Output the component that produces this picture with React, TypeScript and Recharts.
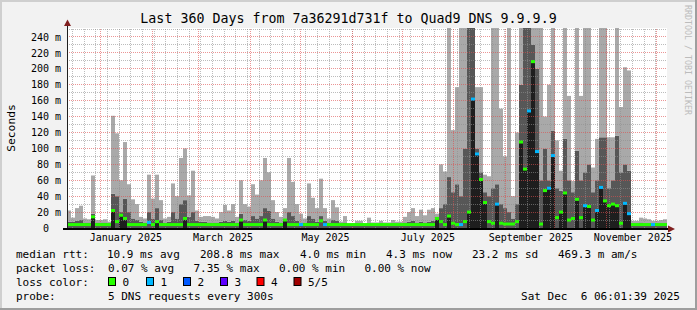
import React from 'react';
import { ComposedChart, Bar, Scatter, XAxis, YAxis, ReferenceLine } from 'recharts';

// ---- data (ms), one column per ~2.4 days ----
const lightTop = [
  22, 13, 25, 28, 12, 11, 66, 10, 10, 11,
  8, 141, 119, 60, 108, 55, 36, 30, 14, 12,
  67, 37, 67, 35, 12, 14, 56, 40, 88, 100,
  41, 72, 22, 14, 15, 15, 14, 12, 20, 29,
  22, 30, 14, 60, 30, 27, 55, 42, 60, 88,
  70, 35, 20, 14, 25, 88, 58, 30, 18, 12,
  56, 38, 25, 62, 25, 12, 35, 26, 8, 15,
  6, 6, 9, 9, 6, 13, 7, 7, 9, 7,
  7, 10, 8, 8, 14, 20, 25, 15, 23, 16,
  23, 25, 18, 80, 71, 252, 123, 177, 252, 252,
  252, 252, 177, 177, 67, 65, 252, 252, 150, 90,
  252, 40, 120, 252, 252, 252, 252, 252, 252, 140,
  180, 252, 110, 72, 252, 166, 59, 252, 166, 252,
  252, 76, 112, 252, 252, 114, 114, 252, 152, 202,
  198, 9, 9, 13, 12, 11, 9, 9, 10, 11,
];
const darkTop = [
  8, 8, 9, 10, 7, 7, 18, 7, 7, 7,
  6, 43, 40, 20, 37, 20, 12, 10, 8, 7,
  20, 12, 25, 10, 7, 8, 20, 12, 30, 35,
  14, 20, 9, 8, 8, 7, 7, 7, 8, 9,
  8, 9, 7, 18, 10, 9, 15, 12, 15, 25,
  22, 12, 8, 7, 8, 20, 15, 9, 7, 7,
  15, 12, 8, 15, 9, 7, 10, 9, 6, 7,
  5, 5, 6, 6, 5, 6, 5, 5, 6, 5,
  5, 6, 5, 6, 7, 8, 9, 7, 8, 7,
  8, 9, 8, 25, 30, 64, 45, 55, 40, 100,
  252, 252, 100, 70, 45, 40, 50, 55, 30, 25,
  20, 12, 30, 180, 252, 252, 230, 200, 60, 100,
  60, 122, 50, 47, 112, 60, 45, 97, 60, 70,
  80, 45, 60, 114, 114, 50, 60, 116, 70, 80,
  72, 6, 6, 7, 6, 6, 6, 6, 6, 6,
];
const blackTop = [
  0, 0, 0, 0, 0, 0, 14, 0, 0, 0,
  0, 22, 0, 16, 12, 0, 0, 0, 0, 0,
  0, 0, 8, 0, 0, 0, 0, 0, 0, 12,
  0, 0, 0, 0, 0, 0, 0, 0, 0, 0,
  0, 0, 0, 10, 0, 0, 0, 0, 0, 10,
  0, 0, 0, 0, 10, 0, 0, 0, 0, 0,
  0, 0, 0, 0, 0, 0, 0, 0, 0, 0,
  0, 0, 0, 0, 0, 0, 0, 0, 0, 0,
  0, 0, 0, 0, 0, 0, 0, 0, 0, 0,
  0, 0, 12, 0, 0, 15, 0, 0, 0, 0,
  20, 162, 93, 61, 32, 0, 0, 30, 0, 0,
  0, 0, 0, 108, 74, 147, 209, 96, 0, 47,
  50, 91, 0, 20, 44, 0, 0, 36, 0, 28,
  27, 0, 22, 51, 34, 28, 30, 28, 0, 31,
  18, 0, 0, 0, 0, 0, 0, 0, 0, 0,
];
const medianRtt = [
  4.3, 4.3, 4.3, 4.3, 4.3, 4.3, 14, 4.3, 4.3, 4.3,
  4.3, 22, 8, 16, 12, 4.3, 4.3, 4.3, 4.3, 4.3,
  7, 4.3, 8, 4.3, 4.3, 4.3, 4.3, 4.3, 4.3, 12,
  4.3, 4.3, 4.3, 4.3, 4.3, 4.3, 4.3, 4.3, 4.3, 4.3,
  4.3, 4.3, 4.3, 10, 4.3, 4.3, 4.3, 4.3, 4.3, 10,
  4.3, 4.3, 4.3, 4.3, 10, 4.3, 4.3, 4.3, 4.3, 4.3,
  4.3, 4.3, 4.3, 9, 4.3, 4.3, 4.3, 4.3, 4.3, 4.3,
  4.3, 4.3, 4.3, 4.3, 4.3, 4.3, 4.3, 4.3, 4.3, 4.3,
  4.3, 4.3, 4.3, 4.3, 4.3, 4.3, 4.3, 4.3, 4.3, 4.3,
  4.3, 4.3, 12, 8, 4.3, 15, 6, 4.3, 4.3, 8,
  20, 162, 93, 61, 32, 8, 6, 30, 6, 5,
  5, 5, 8, 108, 74, 147, 209, 96, 5, 47,
  50, 91, 13, 20, 44, 10, 12, 36, 13, 28,
  27, 10, 22, 51, 34, 28, 30, 28, 6, 31,
  18, 4.3, 4.3, 4.3, 4.3, 4.3, 4.3, 4.3, 4.3, 4.3,
];
const lossCount = [
  0, 0, 0, 0, 0, 0, 0, 0, 0, 0,
  0, 0, 0, 0, 0, 0, 0, 0, 0, 0,
  1, 0, 0, 0, 0, 0, 0, 0, 0, 0,
  0, 0, 0, 0, 0, 0, 0, 0, 0, 0,
  0, 0, 0, 0, 0, 0, 0, 0, 0, 0,
  0, 0, 0, 0, 0, 0, 0, 0, 1, 0,
  0, 0, 0, 0, 1, 0, 0, 0, 0, 0,
  0, 0, 0, 0, 0, 0, 0, 0, 0, 0,
  0, 0, 0, 0, 0, 0, 0, 0, 0, 0,
  0, 0, 0, 0, 0, 0, 0, 0, 1, 0,
  0, 1, 1, 0, 0, 0, 0, 1, 0, 0,
  0, 0, 0, 0, 0, 1, 0, 1, 0, 0,
  1, 1, 0, 0, 0, 0, 0, 0, 0, 1,
  0, 0, 1, 1, 0, 0, 0, 0, 0, 1,
  1, 0, 0, 0, 0, 0, 1, 0, 0, 0,
];

const DAYS_SPAN = 360;
const yTicks = [0, 20, 40, 60, 80, 100, 120, 140, 160, 180, 200, 220, 240];
const yMinorGrid = [10, 30, 50, 70, 90, 110, 130, 150, 170, 190, 210, 230, 250];
const monthLabels = ['January 2025', 'March 2025', 'May 2025', 'July 2025', 'September 2025', 'November 2025'];
const monthLabelDays = [35.3, 93.6, 155.1, 216.5, 278.3, 339.5];
const monthStartDays = [20, 51, 79, 110, 140, 171, 201, 232, 263, 292.5, 323.5, 353.5];
const weekGridDays = Array.from({ length: 52 }, (_, k) => 3.2 + 7 * k).filter((d) => d < 360);

const lossColors = ['#26ff00', '#00b8ff', '#0059ff', '#5e00ff', '#ff0000', '#a00000'];
const lossLegend = ['0', '1', '2', '3', '4', '5/5'];

const colDays = DAYS_SPAN / lightTop.length;
const data = lightTop.map((l, i) => {
  const k = blackTop[i];
  const d = Math.max(darkTop[i], k);
  return {
    idx: i,
    t: (i + 0.5) * colDays,
    sBlack: k,
    sDark: d - k,
    sLight: Math.max(l - d, 0),
    med: medianRtt[i],
    loss: lossCount[i],
  };
});

const FONT = '"DejaVu Sans Mono", monospace';
const MAJOR = 'rgba(222,79,79,0.6)';
const MINOR = 'rgba(143,143,143,0.6)';

const YTick = (props: any) => {
  const { y, payload } = props;
  const v = payload.value;
  return (
    <text x={v === 0 ? 49 : 61} y={y + 3.6} textAnchor="end" fontFamily={FONT} fontSize={10} fill="#000">
      {v === 0 ? '0' : `${v} m`}
    </text>
  );
};

const XTick = (props: any) => {
  const { x, payload } = props;
  const i = monthLabelDays.indexOf(payload.value);
  return (
    <text x={x} y={241} textAnchor="middle" fontFamily={FONT} fontSize={10} fill="#000">
      {monthLabels[i]}
    </text>
  );
};

const MedShape = (props: any) => {
  const { cx, cy, payload } = props;
  if (cx == null || cy == null) return <g />;
  return <rect x={cx - 2} y={cy - 1.5} width={4} height={3} fill={lossColors[payload.loss]} />;
};

const legendLine1: [string, number][] = [
  ['median rtt:', 16], ['10.9 ms avg', 107], ['208.8 ms max', 200], ['4.0 ms min', 300],
  ['4.3 ms now', 386], ['23.2 ms sd', 472], ['469.3 m am/s', 558],
];
const legendLine2: [string, number][] = [
  ['packet loss:', 16], ['0.07 % avg', 108], ['7.35 % max', 193.5], ['0.00 % min', 279], ['0.00 % now', 364.5],
];
const swatchX = [108, 146, 183, 220, 256.5, 293.5];

export default function App() {
  return (
    <div style={{ position: 'absolute', left: 0, top: 0, width: 697, height: 310, overflow: 'hidden' }}>
      <svg width={697} height={310} style={{ position: 'absolute', left: 0, top: 0 }}>
        <rect x={0} y={0} width={697} height={310} fill="#f2f2f2" />
        <rect x={67} y={28} width={600} height={200} fill="#ffffff" />
      </svg>
      <div style={{ position: 'absolute', left: 0, top: 0 }}>
        <ComposedChart
          width={697}
          height={310}
          data={data}
          margin={{ top: 28, right: 30, bottom: 62, left: 7 }}
          barCategoryGap={0}
          barGap={0}
        >
          <XAxis xAxisId="cat" dataKey="idx" type="category" hide />
          <XAxis
            xAxisId="days"
            dataKey="t"
            type="number"
            scale="linear"
            domain={[0, DAYS_SPAN]}
            allowDataOverflow
            ticks={monthLabelDays}
            interval={0}
            tick={<XTick />}
            axisLine={false}
            tickLine={false}
            height={20}
          />
          <YAxis
            domain={[0, 251.3]}
            allowDataOverflow
            ticks={yTicks}
            tick={<YTick />}
            axisLine={false}
            tickLine={false}
            width={60}
            interval={0}
          />
          <Bar xAxisId="cat" dataKey="sBlack" stackId="s" fill="#1e1e1e" isAnimationActive={false} />
          <Bar xAxisId="cat" dataKey="sDark" stackId="s" fill="#575757" isAnimationActive={false} />
          <Bar xAxisId="cat" dataKey="sLight" stackId="s" fill="#a9a9a9" isAnimationActive={false} />
          {yMinorGrid.map((v) => (
            <ReferenceLine key={'ym' + v} xAxisId="days" y={v} stroke={MINOR} strokeDasharray="1 1" shapeRendering="crispEdges" />
          ))}
          {yTicks.filter((v) => v > 0).map((v) => (
            <ReferenceLine key={'yM' + v} xAxisId="days" y={v} stroke={MAJOR} strokeDasharray="1 1" shapeRendering="crispEdges" />
          ))}
          {weekGridDays.map((d) => (
            <ReferenceLine key={'xw' + d} xAxisId="days" x={d} stroke={MINOR} strokeDasharray="1 1" shapeRendering="crispEdges" />
          ))}
          {monthStartDays.map((d) => (
            <ReferenceLine key={'xm' + d} xAxisId="days" x={d} stroke={MAJOR} strokeDasharray="1 1" shapeRendering="crispEdges" />
          ))}
          <Scatter xAxisId="cat" dataKey="med" isAnimationActive={false} shape={MedShape} />
        </ComposedChart>
      </div>
      <svg width={697} height={310} style={{ position: 'absolute', left: 0, top: 0, pointerEvents: 'none' }}>
        <rect x={0} y={0} width={697} height={2} fill="#cfcfcf" />
        <rect x={0} y={0} width={2} height={310} fill="#cfcfcf" />
        <rect x={0} y={308} width={697} height={2} fill="#9e9e9e" />
        <rect x={695} y={0} width={2} height={310} fill="#9e9e9e" />
        <text x={348.5} y={23} textAnchor="middle" fontFamily={FONT} fontSize={13.3} fill="#000">
          Last 360 Days from 7a36291d731f to Quad9 DNS 9.9.9.9
        </text>
        <text transform="translate(15,128) rotate(-90)" textAnchor="middle" fontFamily={FONT} fontSize={11.3} fill="#000">
          Seconds
        </text>
        <text transform="translate(685,5) rotate(90)" fontFamily={FONT} fontSize={8.3} fill="#bcbcbc">
          RRDTOOL / TOBI OETIKER
        </text>
        <line x1={67.5} y1={230} x2={67.5} y2={24} stroke="#1f1f1f" strokeWidth={1} />
        <polygon points="64,26 71,26 67.5,19.5" fill="#801f1f" />
        <rect x={63} y={228} width={606} height={2} fill="#000" />
        <polygon points="668,225.5 668,232.5 675,229" fill="#801f1f" />
        {legendLine1.map(([t, x]) => (
          <text key={t} x={x} y={258} fontFamily={FONT} fontSize={11} fill="#000">{t}</text>
        ))}
        {legendLine2.map(([t, x]) => (
          <text key={t} x={x} y={272} fontFamily={FONT} fontSize={11} fill="#000">{t}</text>
        ))}
        <text x={16} y={286} fontFamily={FONT} fontSize={11} fill="#000">loss color:</text>
        {lossLegend.map((t, i) => (
          <g key={t}>
            <rect x={swatchX[i] + 0.5} y={277.5} width={7} height={8} fill={lossColors[i]} stroke="#000" strokeWidth={1} />
            <text x={swatchX[i] + 14.5} y={286} fontFamily={FONT} fontSize={11} fill="#000">{t}</text>
          </g>
        ))}
        <text x={16} y={300} fontFamily={FONT} fontSize={11} fill="#000">probe:</text>
        <text x={108} y={300} fontFamily={FONT} fontSize={11} fill="#000">5 DNS requests every 300s</text>
        <text x={680} y={300} textAnchor="end" fontFamily={FONT} fontSize={11} fill="#000" style={{ whiteSpace: 'pre' }}>
          {'Sat Dec  6 06:01:39 2025'}
        </text>
      </svg>
    </div>
  );
}
